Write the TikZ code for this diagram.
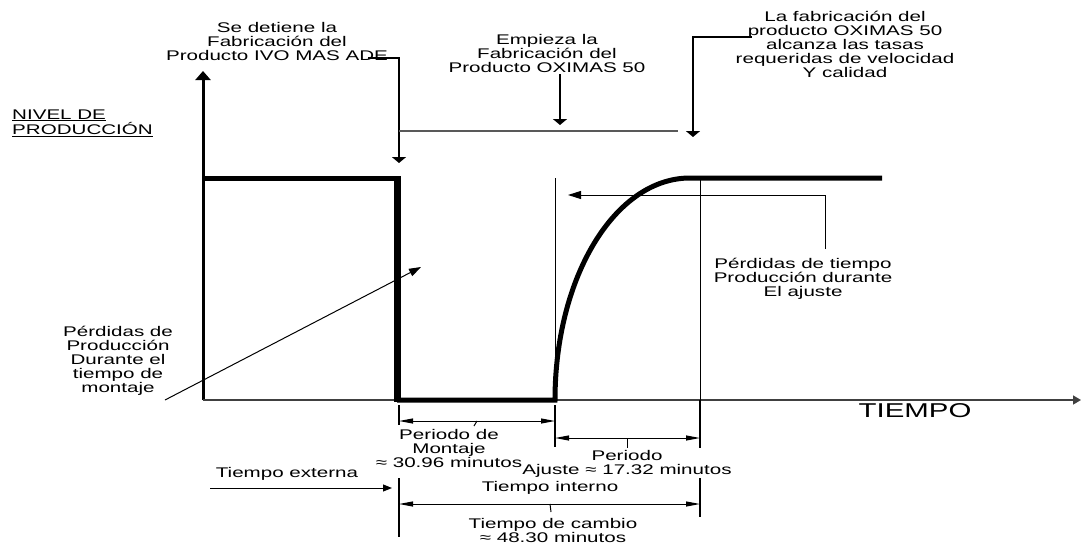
\documentclass[tikz,border=0pt]{standalone}
\usepackage{fontspec}
\setmainfont{Liberation Sans}[FakeStretch=1.47]
\usetikzlibrary{positioning,arrows.meta}

\begin{document}
\begin{tikzpicture}[x=1pt, y=-1pt, every node/.style={font=\fontsize{14}{14}\selectfont, inner sep=0pt, align=center},
  prod/.style={line width=5pt}, thin/.style={line width=1pt}, tick/.style={line width=2pt},
  leader/.style={line width=2pt, -{Triangle[length=6pt,width=14pt]}},
  dim/.style={line width=1pt, {Triangle[length=14pt,width=5pt]}-{Triangle[length=14pt,width=5pt]}},
  pointer/.style={line width=1pt, -{Triangle[length=12pt,width=8pt]}}]
\useasboundingbox (0,0) rectangle (1081,543);
% ejes
\coordinate (O) at (203,400);
\coordinate (ytop) at (203,71);
\coordinate (xend) at (1081,400);
\draw[line width=3pt, -{Triangle[length=9pt,width=15pt]}] (O) -- (ytop);
\draw[line width=1.6pt, black!75, -{Triangle[length=8pt,width=9pt]}] (O) -- (xend);
\node[font=\fontsize{20}{20}\selectfont] (tiempo) at (915,411) {TIEMPO};
\node[align=left, anchor=west] (nivel) at (12,123) {\underline{NIVEL DE}\\\underline{PRODUCCIÓN}};
% curva de produccion
\draw[prod] (203,178) -- (396,178);
\draw[line width=7pt] (397,176) -- (397,402);
\draw[prod] (397,400) -- (555,400) .. controls (555,277) and (615,178) .. (690,178) -- (882,178);
\draw[thin] (555,178) -- (555,400); \draw[tick] (555,405) -- (555,447);
\draw[thin] (700,178) -- (700,400); \draw[tick] (700,400) -- (700,448);
\draw[tick] (399,405) -- (399,425); \draw[tick] (399,478) -- (399,537); \draw[tick] (700,478) -- (700,517);
% cotas
\draw[dim] (399,421) -- (555,421);
\draw[dim] (555,438) -- (700,438);
\draw[dim] (399,504) -- (700,504);
\draw[thin] (477,421) -- (474,426); \draw[thin] (627,438) -- (627,448); \draw[thin] (550,504) -- (551,512);
\node (montaje) at (449,448) {Periodo de\\Montaje\\≈ 30.96 minutos};
\node (ajuste) at (627,464) {Periodo\\Ajuste ≈ 17.32 minutos};
\node (interno) at (550,488) {Tiempo interno};
\node (cambio) at (553,530) {Tiempo de cambio\\≈ 48.30 minutos};
\node (externa) at (287,474) {Tiempo externa};
\coordinate (extend) at (392,488);
\draw[thin, -{Triangle[length=9pt,width=7pt]}] (210,488) -- (extend);
% anotaciones
\node (detiene) at (277,41) {Se detiene la\\Fabricación del\\Producto IVO MAS ADE};
\coordinate (stop) at (399,163);
\draw[leader] (368,58) -| (stop);
\draw[line width=2pt, black!65] (399,131) -- (678,131);
\node (empieza) at (547,53) {Empieza la\\Fabricación del\\Producto OXIMAS 50};
\coordinate (start) at (560,125);
\draw[leader] (empieza.south -| start) ++(0,2) -- (start);
\node (alcanza) at (845,44) {La fabricación del\\producto OXIMAS 50\\alcanza las tasas\\requeridas de velocidad\\Y calidad};
\coordinate (reach) at (693,137);
\draw[leader] (752,37) -| (reach);
\node (perdtiempo) at (803,279) {Pérdidas de tiempo\\Producción durante\\El ajuste};
\coordinate (ajtip) at (568,195);
\draw[thin, -{Triangle[length=13pt,width=8pt]}] (825,249) |- (ajtip);
\node (perdprod) at (118,361) {Pérdidas de\\Producción\\Durante el\\tiempo de\\montaje};
\coordinate (montip) at (421,267);
\draw[pointer] (165,400) -- (montip);
\end{tikzpicture}
\end{document}
